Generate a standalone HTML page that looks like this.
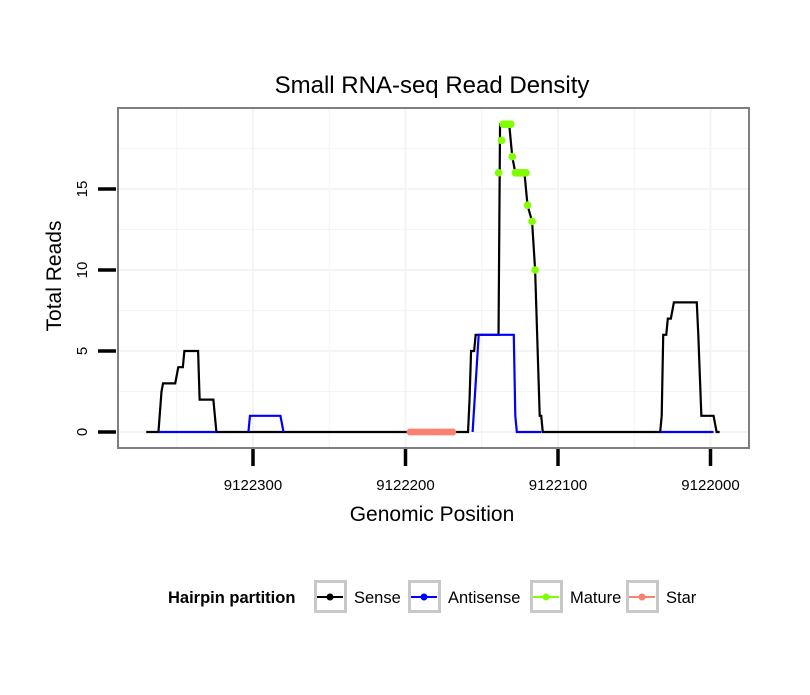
<!DOCTYPE html>
<html><head><meta charset="utf-8"><style>
body{margin:0;background:#fff;}
svg text{font-family:"Liberation Sans",sans-serif;}
</style></head><body>
<svg id="chart" width="810" height="690" xmlns="http://www.w3.org/2000/svg">
<rect width="810" height="690" fill="#fff"/>
<text x="432" y="93" text-anchor="middle" font-size="24">Small RNA-seq Read Density</text>
<g id="grid"></g>
<g id="series"></g>
<rect x="118" y="108" width="631" height="340" fill="none" stroke="#7f7f7f" stroke-width="2"/>
<g id="axes"></g>
<text x="432" y="521" text-anchor="middle" font-size="21">Genomic Position</text>
<text transform="translate(61,276) rotate(-90)" text-anchor="middle" font-size="21">Total Reads</text>
<g id="legend"></g>
</svg>
<script>
const senseX=[9122370,9122362,9122360,9122359,9122351,9122349,9122346,9122345,9122336,9122335,9122326,9122324,9122159,9122158,9122157,9122155,9122154,9122139,9122138,9122132,9122130,9122128,9122122,9122120,9122117,9122115,9122112,9122111,9122110,9122033,9122032,9122031,9122029,9122028,9122026,9122024,9122009,9122008,9122006,9121998,9121996,9121994];
const senseY=[0,0,2.5,3,3,4,4,5,5,2,2,0,0,2,5,5,6,6,19,19,17,16,16,14,13,10,1,1,0,0,1,6,6,7,7,8,8,6,1,1,0,0];
const antiSegX=[[9122362,9122324],[9122303,9122302,9122282,9122280],[9122156,9122152,9122129,9122128,9122127,9122111],[9122033,9121998]];
const antiSegY=[[0,0],[0,1,1,0],[0,6,6,1,0,0],[0,0]];
const matureX=[9122139,9122137,9122136,9122135,9122134,9122133,9122132,9122131,9122130,9122128,9122127,9122126,9122125,9122124,9122123,9122122,9122121,9122120,9122117,9122115];
const matureY=[16,18,19,19,19,19,19,19,17,16,16,16,16,16,16,16,16,14,13,10];
const starX=[9122197,9122195,9122193,9122191,9122189,9122187,9122185,9122183,9122181,9122179,9122177,9122175,9122173,9122171,9122169];
const starY=[0,0,0,0,0,0,0,0,0,0,0,0,0,0,0];
const xTicks=[9122300,9122200,9122100,9122000];
const yTicks=[0,5,10,15];
const legendLabels=["Sense","Antisense","Mature","Star"];
const legendColors=["#000000","#0000ff","#7fff00","#fa8072"];

const NS="http://www.w3.org/2000/svg";
function X(v){return 253+(9122300-v)*1.525;}
function Y(v){return 432-v*16.2;}
function mk(tag,attrs,parent){const e=document.createElementNS(NS,tag);for(const k in attrs)e.setAttribute(k,attrs[k]);parent.appendChild(e);return e;}
const grid=document.getElementById('grid'),ser=document.getElementById('series'),ax=document.getElementById('axes'),leg=document.getElementById('legend');
for(let v=0;v<=20;v+=2.5){const y=Y(v);if(y<110)continue;const l=mk('line',{x1:119,x2:748,y1:y,y2:y,stroke:'#f4f4f4','stroke-width':v%5===0?2:1},grid);

}
for(let v=9122350;v>=9121950;v-=50){const x=X(v);if(x<119||x>748)continue;const l=mk('line',{x1:x,x2:x,y1:109,y2:447,stroke:'#f4f4f4','stroke-width':v%100===0?2:1},grid);

}
function pts(xs,ys){return xs.map((x,i)=>X(x)+','+Y(ys[i])).join(' ');}
const sl=mk('polyline',{points:pts(senseX,senseY),fill:'none',stroke:'#000','stroke-width':2.2},ser);


antiSegX.forEach((xs,i)=>{const p=mk('polyline',{points:pts(xs,antiSegY[i]),fill:'none',stroke:'#0000ff','stroke-width':2.2},ser);

});
const st=mk('polyline',{points:pts(starX,starY),fill:'none',stroke:'#fa8072','stroke-width':4},ser);


starX.forEach((x,i)=>{const c=mk('circle',{cx:X(x),cy:Y(starY[i]),r:3.5,fill:'#fa8072'},ser);

});
matureX.forEach((x,i)=>{const c=mk('circle',{cx:X(x),cy:Y(matureY[i]),r:3.8,fill:'#7fff00'},ser);

});
xTicks.forEach(v=>{const x=X(v);const t=mk('line',{x1:x,x2:x,y1:449,y2:466,stroke:'#000','stroke-width':3.5},ax);


const tx=mk('text',{x:x,y:490,'text-anchor':'middle','font-size':15},ax);tx.textContent=v;

});
yTicks.forEach(v=>{const y=Y(v);const t=mk('line',{x1:98,x2:116,y1:y,y2:y,stroke:'#000','stroke-width':3.5},ax);


const tx=mk('text',{transform:`translate(87,${y}) rotate(-90)`,'text-anchor':'middle','font-size':15},ax);tx.textContent=v;

});
const lt=mk('text',{x:168,y:603,'font-size':16.5,'font-weight':'bold'},leg);lt.textContent='Hairpin partition';


const boxX=[314,408,530,626];
legendLabels.forEach((lab,i)=>{const g=mk('g',{},leg);


const bx=boxX[i];
mk('rect',{x:bx+1.5,y:581.5,width:30,height:30,fill:'#fff',stroke:'#c8c8c8','stroke-width':3},g);
mk('line',{x1:bx+3,x2:bx+29,y1:597,y2:597,stroke:legendColors[i],'stroke-width':2},g);
mk('circle',{cx:bx+16,cy:597,r:3.5,fill:legendColors[i]},g);
const t=mk('text',{x:bx+40,y:603,'font-size':16.5},g);t.textContent=lab;});
</script>
</body></html>
